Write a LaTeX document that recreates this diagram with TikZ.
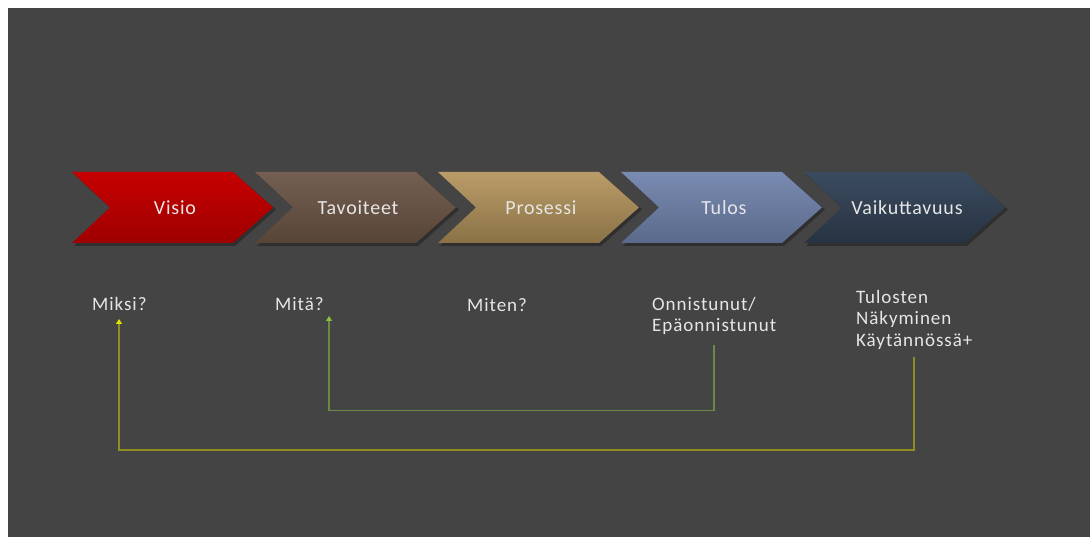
\documentclass[tikz,border=0pt]{standalone}
\usepackage{fontspec}
\setmainfont{Carlito}
\usetikzlibrary{arrows.meta}
\definecolor{bg}{HTML}{444444}
\definecolor{visT}{HTML}{C60000}
\definecolor{visB}{HTML}{9E0000}
\definecolor{tavT}{HTML}{745E52}
\definecolor{tavB}{HTML}{574538}
\definecolor{proT}{HTML}{BA9C68}
\definecolor{proB}{HTML}{8A7246}
\definecolor{tulT}{HTML}{7A8BB2}
\definecolor{tulB}{HTML}{5A6A8B}
\definecolor{vaiT}{HTML}{3B4B5F}
\definecolor{vaiB}{HTML}{273342}
\definecolor{txt}{HTML}{E6E6E6}
\definecolor{ylw}{HTML}{8E8E22}
\definecolor{ylwtip}{HTML}{E2E200}
\definecolor{grn}{HTML}{6A8848}
\definecolor{grntip}{HTML}{88C040}
\tikzset{
  chevtext/.style={text=txt, font=\fontsize{20}{22}\selectfont\addfontfeatures{LetterSpace=4}, inner sep=0pt},
  lbl/.style={text=txt, font=\fontsize{19}{21.5}\selectfont\addfontfeatures{LetterSpace=5}, inner sep=0pt, align=left},
  ylwline/.style={draw=ylw, line width=2pt, -{Triangle[width=6pt,length=5pt,color=ylwtip]}},
  grnline/.style={draw=grn, line width=1.8pt, -{Triangle[width=6pt,length=5pt,color=grntip]}},
}
\begin{document}
\begin{tikzpicture}[x=1pt,y=-1pt]
\useasboundingbox (0,0) rectangle (1090,537);
\fill[white] (0,0) rectangle (1090,537);
\fill[bg] (8,8) rectangle (1090,537);
\foreach \x/\t/\b/\n/\l in {72/visT/visB/c1/Visio, 255/tavT/tavB/c2/Tavoiteet, 438/proT/proB/c3/Prosessi, 621/tulT/tulB/c4/Tulos, 804/vaiT/vaiB/c5/Vaikuttavuus}{
  \fill[black,opacity=0.3] (\x+2,174) -- (\x+163,174) -- (\x+204,209.5) -- (\x+163,246) -- (\x+2,246) -- (\x+40,209.5) -- cycle;
  \path[top color=\t, bottom color=\b] (\x,172) -- (\x+161,172) -- (\x+201,207.5) -- (\x+161,243) -- (\x,243) -- (\x+38,207.5) -- cycle;
  \node[chevtext] (\n) at (\x+103,207.5) {\l};
}
\node[lbl, anchor=base west] (miksi) at (92,310.5) {Miksi?};
\node[lbl, anchor=base west] (mita) at (275,310.5) {Mitä?};
\node[lbl, anchor=base west] (miten) at (467,312) {Miten?};
\node[lbl, anchor=base west] (onn) at (652,332) {Onnistunut/\\Epäonnistunut};
\node[lbl, anchor=base west] (tul) at (856,346.5) {Tulosten\\Näkyminen\\Käytännössä+};
\coordinate (mitaTip) at (329,316);
\coordinate (miksiTip) at (119,319);
\coordinate (g1) at (0,410.5);
\coordinate (g2) at (329,410.5);
\coordinate (y1) at (0,450);
\coordinate (y2) at (119,450);
\draw[grnline] ([yshift=-10pt]onn.south) -- (onn.south |- g1) -- (g2) -- (mitaTip);
\draw[ylwline] ([yshift=-7pt]tul.south) -- (tul.south |- y1) -- (y2) -- (miksiTip);
\end{tikzpicture}
\end{document}
